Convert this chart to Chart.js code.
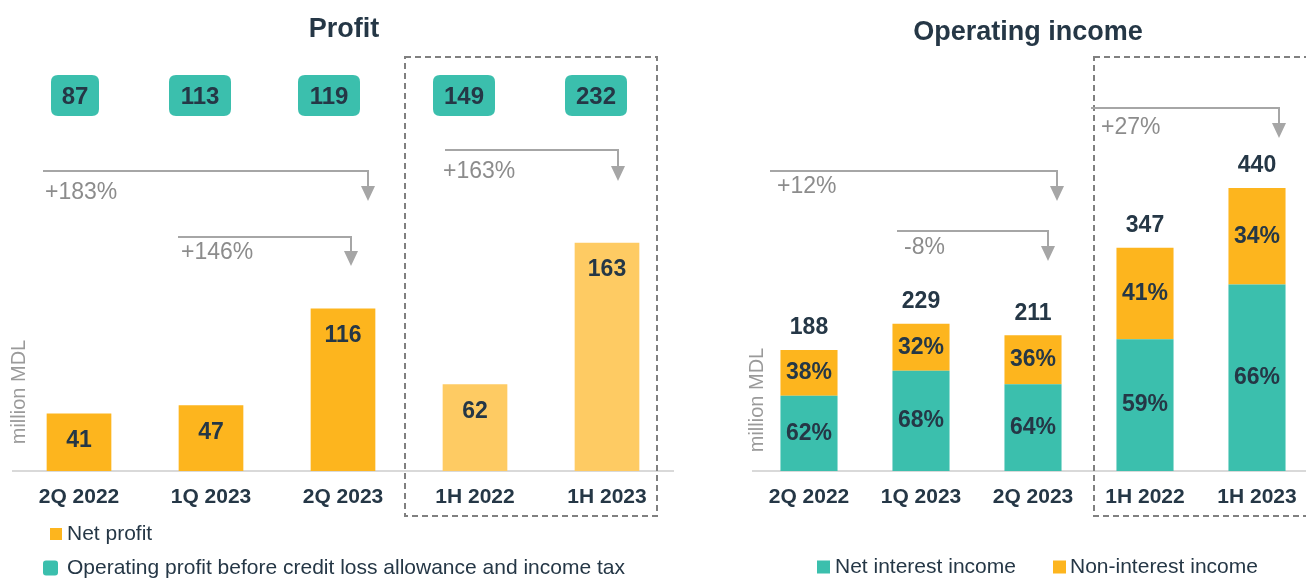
<!DOCTYPE html>
<html lang="en">
<head>
  <meta charset="UTF-8">
  <title>Profit and Operating income</title>
  <script src="https://cdn.jsdelivr.net/npm/chart.js"></script>
  <style>
    body {
      margin: 0;
      width: 1306px;
      height: 579px;
      overflow: hidden;
      background: #fff;
      position: relative;
    }
    #profitChart { position: absolute; left: 0; top: 0; }
    #incomeChart { position: absolute; left: 745px; top: 0; }
  </style>
</head>
<body>

  <canvas id="profitChart" width="680" height="579"></canvas>
  <canvas id="incomeChart" width="575" height="579"></canvas>

  <script>
    // data (million MDL)
    const periods = ['2Q 2022', '1Q 2023', '2Q 2023', '1H 2022', '1H 2023'];
    const netProfit = [41, 47, 116, 62, 163];
    const operatingProfit = [87, 113, 119, 149, 232];
    const netInterest = [117, 156, 135, 205, 290];
    const nonInterest = [71, 73, 76, 142, 150];
    const totalIncome = [188, 229, 211, 347, 440];
    const netInterestShare = ['62%', '68%', '64%', '59%', '66%'];
    const nonInterestShare = ['38%', '32%', '36%', '41%', '34%'];

    const FONT = '"Liberation Sans", Arial, sans-serif';
    const DARK = '#253746';
    const TEAL = '#3bbfad';
    const ORANGE = '#fdb51e';
    const LIGHT_ORANGE = '#fecb63';
    const ARROW = '#a6a6a6';

    function roundBox(ctx, x, y, w, h, r) {
      ctx.beginPath();
      ctx.moveTo(x + r, y);
      ctx.lineTo(x + w - r, y);
      ctx.quadraticCurveTo(x + w, y, x + w, y + r);
      ctx.lineTo(x + w, y + h - r);
      ctx.quadraticCurveTo(x + w, y + h, x + w - r, y + h);
      ctx.lineTo(x + r, y + h);
      ctx.quadraticCurveTo(x, y + h, x, y + h - r);
      ctx.lineTo(x, y + r);
      ctx.quadraticCurveTo(x, y, x + r, y);
      ctx.closePath();
      ctx.fill();
    }

    // title, axis title, dashed box, growth arrows and legend
    const decor = {
      id: 'decor',
      afterDraw(chart, args, o) {
        const ctx = chart.ctx;
        const x = chart.scales.x;
        ctx.save();
        ctx.textAlign = 'center';
        ctx.textBaseline = 'middle';

        ctx.fillStyle = DARK;
        ctx.font = 'bold 27px ' + FONT;
        ctx.fillText(o.title, o.titleX, o.titleY);

        ctx.save();
        ctx.translate(o.yTitleX, o.yTitleY);
        ctx.rotate(-Math.PI / 2);
        ctx.fillStyle = '#9a9a9a';
        ctx.font = '20px ' + FONT;
        ctx.fillText('million MDL', 0, 0);
        ctx.restore();

        const b = o.box;
        const bl = x.getPixelForValue(b.from) + b.dx1;
        const br = x.getPixelForValue(b.to) + b.dx2;
        ctx.setLineDash([6, 4]);
        ctx.strokeStyle = '#808080';
        ctx.lineWidth = 2;
        ctx.strokeRect(bl, b.top, br - bl, b.bottom - b.top);
        ctx.setLineDash([]);

        o.arrows.forEach(a => {
          const x1 = x.getPixelForValue(a.from) + a.dx1;
          const x2 = x.getPixelForValue(a.to) + a.dx2;
          ctx.strokeStyle = ARROW;
          ctx.lineWidth = 2;
          ctx.beginPath();
          ctx.moveTo(x1, a.y);
          ctx.lineTo(x2, a.y);
          ctx.lineTo(x2, a.tip - 14);
          ctx.stroke();
          ctx.fillStyle = ARROW;
          ctx.beginPath();
          ctx.moveTo(x2 - 7, a.tip - 15);
          ctx.lineTo(x2 + 7, a.tip - 15);
          ctx.lineTo(x2, a.tip);
          ctx.closePath();
          ctx.fill();
          ctx.fillStyle = '#8c8c8c';
          ctx.font = '23px ' + FONT;
          ctx.textAlign = 'left';
          ctx.fillText(a.text, x1 + a.tx, a.y + a.ty);
          ctx.textAlign = 'center';
        });

        o.legend.forEach(l => {
          ctx.fillStyle = l.color;
          if (l.round) roundBox(ctx, l.x, l.y - l.size / 2, l.size, l.size, 3);
          else ctx.fillRect(l.x, l.y - l.size / 2, l.size, l.size);
          ctx.fillStyle = DARK;
          ctx.font = '21px ' + FONT;
          ctx.textAlign = 'left';
          ctx.fillText(l.text, l.tx, l.y);
        });
        ctx.restore();
      }
    };

    // the operating-profit boxes sit a little left of each bar
    const boxShift = [-4, -11, -14, -11, -11];

    const profitLabels = {
      id: 'profitLabels',
      afterDatasetsDraw(chart) {
        const ctx = chart.ctx;
        const x = chart.scales.x;
        ctx.save();
        ctx.textAlign = 'center';
        ctx.textBaseline = 'middle';
        ctx.font = 'bold 23px ' + FONT;
        chart.getDatasetMeta(0).data.forEach((bar, i) => {
          ctx.fillStyle = DARK;
          ctx.fillText(netProfit[i], bar.x, bar.y + 27);
        });
        ctx.font = 'bold 24px ' + FONT;
        operatingProfit.forEach((v, i) => {
          const cx = x.getPixelForValue(i) + boxShift[i];
          const w = String(v).length > 2 ? 62 : 48;
          ctx.fillStyle = TEAL;
          roundBox(ctx, cx - w / 2, 75, w, 41, 7);
          ctx.fillStyle = DARK;
          ctx.fillText(v, cx, 97);
        });
        ctx.restore();
      }
    };

    const incomeLabels = {
      id: 'incomeLabels',
      afterDatasetsDraw(chart) {
        const ctx = chart.ctx;
        const shares = [netInterestShare, nonInterestShare];
        ctx.save();
        ctx.textAlign = 'center';
        ctx.textBaseline = 'middle';
        ctx.fillStyle = DARK;
        ctx.font = 'bold 23px ' + FONT;
        [0, 1].forEach(d => {
          chart.getDatasetMeta(d).data.forEach((bar, i) => {
            ctx.fillText(shares[d][i], bar.x, (bar.y + bar.base) / 2);
          });
        });
        chart.getDatasetMeta(1).data.forEach((bar, i) => {
          ctx.fillText(totalIncome[i], bar.x, bar.y - 22);
        });
        ctx.restore();
      }
    };

    function xAxis() {
      return {
        grid: { display: false, drawTicks: false },
        border: { display: true, color: '#d9d9d9', width: 2 },
        ticks: { color: DARK, padding: 14, font: { family: FONT, size: 21, weight: 'bold' } },
        afterFit: s => { s.height = 50; }
      };
    }

    new Chart(document.getElementById('profitChart'), {
      type: 'bar',
      data: {
        labels: periods,
        datasets: [{
          label: 'Net profit',
          data: netProfit,
          backgroundColor: [ORANGE, ORANGE, ORANGE, LIGHT_ORANGE, LIGHT_ORANGE],
          categoryPercentage: 0.5,
          barPercentage: 0.98
        }]
      },
      options: {
        responsive: false,
        animation: false,
        layout: { padding: { left: 13, right: 7, top: 51, bottom: 58 } },
        scales: {
          x: xAxis(),
          y: { display: false, min: 0, max: 300 }
        },
        plugins: {
          legend: { display: false },
          tooltip: { enabled: false },
          decor: {
            title: 'Profit', titleX: 344, titleY: 30,
            yTitleX: 19, yTitleY: 392,
            box: { from: 3, dx1: -70, to: 4, dx2: 50, top: 57, bottom: 516 },
            arrows: [
              { from: 0, dx1: -36, to: 2, dx2: 25, y: 171, tip: 201, text: '+183%', tx: 2, ty: 22 },
              { from: 1, dx1: -33, to: 2, dx2: 8, y: 237, tip: 266, text: '+146%', tx: 3, ty: 16 },
              { from: 3, dx1: -30, to: 4, dx2: 11, y: 150, tip: 181, text: '+163%', tx: -2, ty: 22 }
            ],
            legend: [
              { color: ORANGE, x: 50, y: 534, size: 12, text: 'Net profit', tx: 67 },
              { color: TEAL, x: 43, y: 568, size: 15, round: true, text: 'Operating profit before credit loss allowance and income tax', tx: 67 }
            ]
          }
        }
      },
      plugins: [decor, profitLabels]
    });

    new Chart(document.getElementById('incomeChart'), {
      type: 'bar',
      data: {
        labels: periods,
        datasets: [
          { label: 'Net interest income', data: netInterest, backgroundColor: TEAL, categoryPercentage: 0.52, barPercentage: 0.98 },
          { label: 'Non-interest income', data: nonInterest, backgroundColor: ORANGE, categoryPercentage: 0.52, barPercentage: 0.98 }
        ]
      },
      options: {
        responsive: false,
        animation: false,
        layout: { padding: { left: 8, right: 7, top: 51, bottom: 58 } },
        scales: {
          x: Object.assign(xAxis(), { stacked: true }),
          y: { display: false, stacked: true, min: 0, max: 653 }
        },
        plugins: {
          legend: { display: false },
          tooltip: { enabled: false },
          decor: {
            title: 'Operating income', titleX: 283, titleY: 33,
            yTitleX: 12, yTitleY: 400,
            box: { from: 3, dx1: -51, to: 4, dx2: 90, top: 57, bottom: 516 },
            arrows: [
              { from: 0, dx1: -39, to: 2, dx2: 24, y: 171, tip: 201, text: '+12%', tx: 7, ty: 16 },
              { from: 1, dx1: -24, to: 2, dx2: 15, y: 231, tip: 261, text: '-8%', tx: 7, ty: 17 },
              { from: 3, dx1: -54, to: 4, dx2: 22, y: 108, tip: 138, text: '+27%', tx: 10, ty: 20 }
            ],
            legend: [
              { color: TEAL, x: 72, y: 567, size: 13, text: 'Net interest income', tx: 90 },
              { color: ORANGE, x: 308, y: 567, size: 13, text: 'Non-interest income', tx: 325 }
            ]
          }
        }
      },
      plugins: [decor, incomeLabels]
    });
  </script>

</body>
</html>
